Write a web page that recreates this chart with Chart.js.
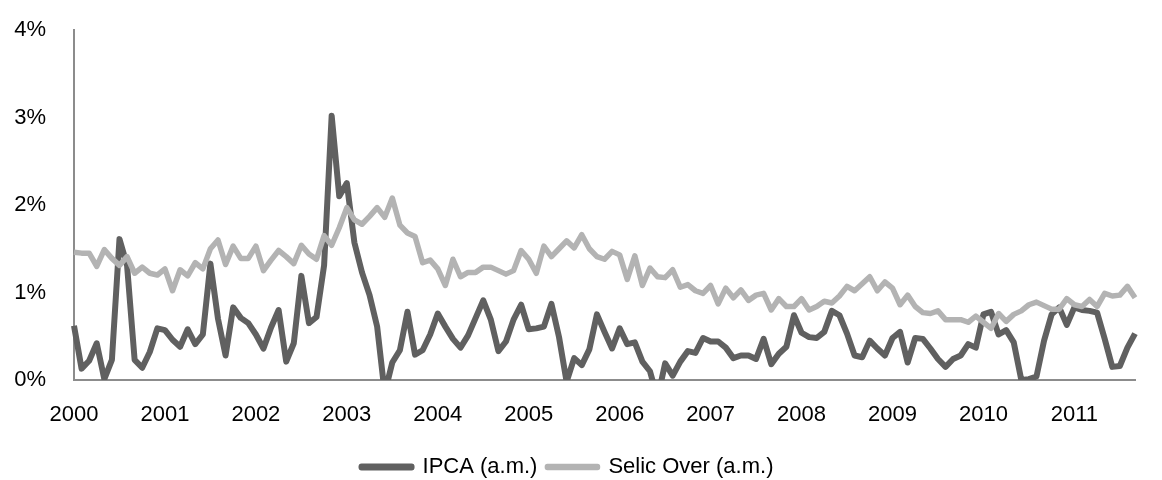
<!DOCTYPE html>
<html>
<head>
<meta charset="utf-8">
<script src="https://cdn.jsdelivr.net/npm/chart.js@4.4.1/dist/chart.umd.min.js"></script>
<style>
  html, body { margin: 0; padding: 0; background: #ffffff; }
  #wrap { width: 1162px; height: 480px; position: relative; }
</style>
</head>
<body>
<div id="wrap"><canvas id="chart" width="1162" height="480"></canvas></div>
<script>
// Monthly rates, Jan 2000 – Sep 2011 (% per month)
const years = [2000, 2001, 2002, 2003, 2004, 2005, 2006, 2007, 2008, 2009, 2010, 2011];

const ipca = [
  0.62, 0.13, 0.22, 0.42, 0.01, 0.23, 1.61, 1.31, 0.23, 0.14, 0.32, 0.59,
  0.57, 0.46, 0.38, 0.58, 0.41, 0.52, 1.33, 0.70, 0.28, 0.83, 0.71, 0.65,
  0.52, 0.36, 0.60, 0.80, 0.21, 0.42, 1.19, 0.65, 0.72, 1.31, 3.02, 2.10,
  2.25, 1.57, 1.23, 0.97, 0.61, -0.15, 0.20, 0.34, 0.78, 0.29, 0.34, 0.52,
  0.76, 0.61, 0.47, 0.37, 0.51, 0.71, 0.91, 0.69, 0.33, 0.44, 0.69, 0.86,
  0.58, 0.59, 0.61, 0.87, 0.49, -0.02, 0.25, 0.17, 0.35, 0.75, 0.55, 0.36,
  0.59, 0.41, 0.43, 0.21, 0.10, -0.21, 0.19, 0.05, 0.21, 0.33, 0.31, 0.48,
  0.44, 0.44, 0.37, 0.25, 0.28, 0.28, 0.24, 0.47, 0.18, 0.30, 0.38, 0.74,
  0.54, 0.49, 0.48, 0.55, 0.79, 0.74, 0.53, 0.28, 0.26, 0.45, 0.36, 0.28,
  0.48, 0.55, 0.20, 0.48, 0.47, 0.36, 0.24, 0.15, 0.24, 0.28, 0.41, 0.37,
  0.75, 0.78, 0.52, 0.57, 0.43, 0.00, 0.01, 0.04, 0.45, 0.75, 0.83, 0.63,
  0.83, 0.80, 0.79, 0.77, 0.47, 0.15, 0.16, 0.37, 0.53
];

const selic = [
  1.46, 1.45, 1.45, 1.30, 1.49, 1.39, 1.31, 1.41, 1.22, 1.29, 1.22, 1.20,
  1.27, 1.02, 1.26, 1.19, 1.34, 1.27, 1.50, 1.60, 1.32, 1.53, 1.39, 1.39,
  1.53, 1.25, 1.37, 1.48, 1.41, 1.33, 1.54, 1.44, 1.38, 1.65, 1.54, 1.74,
  1.97, 1.83, 1.78, 1.87, 1.97, 1.86, 2.08, 1.77, 1.68, 1.64, 1.34, 1.37,
  1.27, 1.08, 1.38, 1.18, 1.23, 1.23, 1.29, 1.29, 1.25, 1.21, 1.25, 1.48,
  1.38, 1.22, 1.53, 1.41, 1.50, 1.59, 1.51, 1.66, 1.50, 1.41, 1.38, 1.47,
  1.43, 1.15, 1.42, 1.08, 1.28, 1.18, 1.17, 1.26, 1.06, 1.09, 1.02, 0.99,
  1.08, 0.87, 1.05, 0.94, 1.03, 0.91, 0.97, 0.99, 0.80, 0.93, 0.84, 0.84,
  0.93, 0.80, 0.84, 0.90, 0.88, 0.96, 1.07, 1.02, 1.10, 1.18, 1.02, 1.12,
  1.05, 0.86, 0.97, 0.84, 0.77, 0.76, 0.79, 0.69, 0.69, 0.69, 0.66, 0.73,
  0.66, 0.59, 0.76, 0.67, 0.75, 0.79, 0.86, 0.89, 0.85, 0.81, 0.81, 0.93,
  0.86, 0.84, 0.92, 0.84, 0.99, 0.96, 0.97, 1.07, 0.94
];

const seriesNames = ['IPCA (a.m.)', 'Selic Over (a.m.)'];
const yTicks = [0, 1, 2, 3, 4];

// one category per month; only January carries its year as a label
const months = [];
years.forEach(y => { for (let m = 1; m <= 12; m++) months.push(y + '-' + String(m).padStart(2, '0')); });
const labels = months.slice(0, ipca.length);

const FONT = '"Liberation Sans", Arial, sans-serif';
const FONT_SIZE = 22;
const AXIS_GREY = '#8c8c8c';

new Chart(document.getElementById('chart'), {
  type: 'line',
  data: {
    labels: labels,
    datasets: [
      {
        label: seriesNames[0],
        data: ipca,
        borderColor: '#606060',
        backgroundColor: '#606060',
        borderWidth: 6,
        pointRadius: 0,
        tension: 0,
        borderJoinStyle: 'round',
        order: 2
      },
      {
        label: seriesNames[1],
        data: selic,
        borderColor: '#b3b3b3',
        backgroundColor: '#b3b3b3',
        borderWidth: 5.5,
        pointRadius: 0,
        tension: 0,
        borderJoinStyle: 'round',
        order: 1
      }
    ]
  },
  options: {
    responsive: false,
    animation: false,
    devicePixelRatio: 1,
    layout: { padding: { top: 30, right: 27, left: 0, bottom: -8 } },
    plugins: {
      tooltip: { enabled: false },
      legend: {
        position: 'bottom',
        labels: {
          boxWidth: 50,
          boxHeight: 1,
          padding: 10,
          color: '#000',
          font: { family: FONT, size: FONT_SIZE },
          sort: (a, b) => a.datasetIndex - b.datasetIndex
        }
      }
    },
    scales: {
      x: {
        type: 'category',
        offset: false,
        grid: { display: false, drawTicks: false },
        border: { display: true, color: AXIS_GREY, width: 2 },
        ticks: {
          autoSkip: false,
          maxRotation: 0,
          minRotation: 0,
          padding: 22,
          color: '#000',
          font: { family: FONT, size: FONT_SIZE },
          callback: function (value, index) {
            return index % 12 === 0 ? labels[index].slice(0, 4) : '';
          }
        },
        afterFit: scale => { scale.height = 66; }
      },
      y: {
        min: 0,
        max: 4,
        grid: { display: false, drawTicks: false },
        border: { display: true, color: AXIS_GREY, width: 2 },
        afterBuildTicks: scale => { scale.ticks = yTicks.map(v => ({ value: v })); },
        ticks: {
          padding: 28,
          color: '#000',
          font: { family: FONT, size: FONT_SIZE },
          callback: v => v + '%'
        },
        afterFit: scale => {
          scale.width = 74;
          scale.paddingTop = 0;
          scale.paddingBottom = 0;
        }
      }
    }
  }
});
</script>
</body>
</html>
